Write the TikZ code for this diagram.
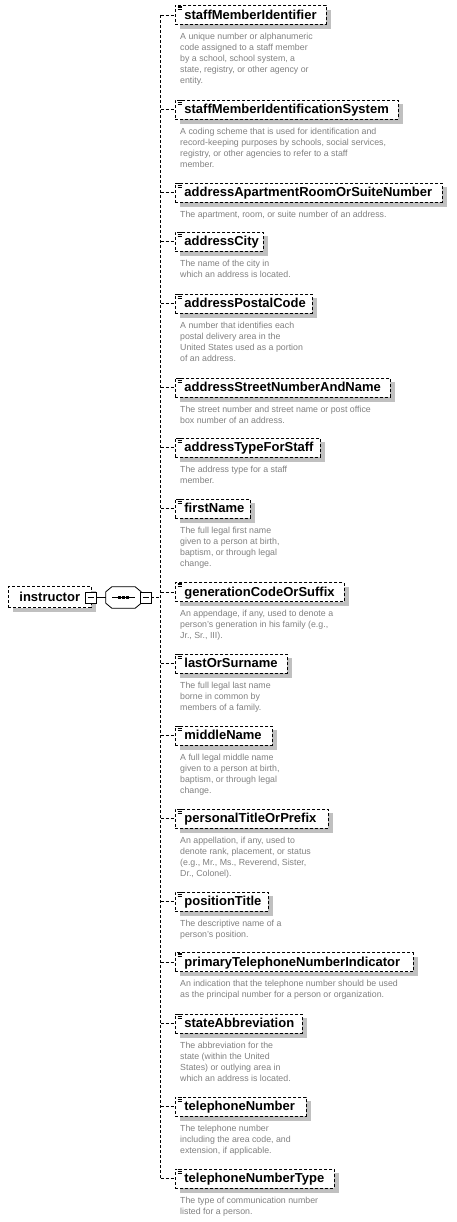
\documentclass[tikz,border=0pt]{standalone}
\usepackage{fontspec}
\setmainfont{Liberation Sans}
\usetikzlibrary{backgrounds}
\definecolor{shgray}{RGB}{192,192,192}
\definecolor{descgray}{RGB}{128,128,128}
\tikzset{
  conn/.style={line width=0.8pt, dash pattern=on 3pt off 2pt},
  solidconn/.style={line width=0.8pt},
  elem/.style={draw, line width=0.8pt, dash pattern=on 3pt off 2pt, fill=white,
    anchor=west, inner xsep=0pt, inner ysep=3.5pt, text width=#1pt, align=left,
    text height=10.3pt, text depth=1.7pt,
    font=\fontsize{13}{15}\selectfont\bfseries,
    execute at begin node={\hspace*{9pt}}},
  instrbox/.style={draw, line width=0.8pt, dash pattern=on 3pt off 2pt, fill=white,
    anchor=west, inner xsep=11pt, inner ysep=0pt, minimum height=21pt,
    text height=10.3pt, text depth=1.7pt,
    font=\fontsize{13}{15}\selectfont\bfseries},
  desc/.style={anchor=north west, inner sep=0pt, align=left, text=descgray,
    font=\fontsize{8.8}{11}\selectfont},
  minusbox/.style={draw, solid, line width=0.8pt, fill=white, minimum size=11pt,
    inner sep=0pt,
    path picture={\draw[line width=0.8pt] ([xshift=2.5pt]path picture bounding box.west)
      -- ([xshift=-2.5pt]path picture bounding box.east);}},
  seqbox/.style={inner sep=0pt, minimum width=35pt, minimum height=21pt},
  icon/.style={line width=0.7pt},
  shadowfill/.style={fill=shgray},
}
\begin{document}
\begin{tikzpicture}[x=1pt, y=-1pt]
\useasboundingbox (0,0) rectangle (456,1222);
\coordinate (vx) at (160.5,0);

% child elements
\node[elem=151] (e1) at (175,15) {staffMemberIdentifier};
\node[elem=223] (e2) at (175,109.5) {staffMemberIdentificationSystem};
\node[elem=267] (e3) at (175,192.5) {addressApartmentRoomOrSuiteNumber};
\node[elem=88] (e4) at (175,241.5) {addressCity};
\node[elem=137] (e5) at (175,303.5) {addressPostalCode};
\node[elem=215] (e6) at (175,387.5) {addressStreetNumberAndName};
\node[elem=145] (e7) at (175,447.5) {addressTypeForStaff};
\node[elem=75] (e8) at (175,508.5) {firstName};
\node[elem=169] (e9) at (175,592) {generationCodeOrSuffix};
\node[elem=112] (e10) at (175,663.5) {lastOrSurname};
\node[elem=97] (e11) at (175,735.5) {middleName};
\node[elem=153] (e12) at (175,818.5) {personalTitleOrPrefix};
\node[elem=93] (e13) at (175,901.5) {positionTitle};
\node[elem=238] (e14) at (175,962) {primaryTelephoneNumberIndicator};
\node[elem=127] (e15) at (175,1023.5) {stateAbbreviation};
\node[elem=131] (e16) at (175,1106.5) {telephoneNumber};
\node[elem=159] (e17) at (175,1178.5) {telephoneNumberType};

% icons
\foreach \n in {e1,e2,e3,e4,e5,e6,e7,e8,e9,e10,e11,e12,e13,e14,e15,e16,e17}{
  \draw[icon] ([xshift=2.7pt,yshift=-1pt]\n.north west) -- +(4.5,0);
  \draw[icon] ([xshift=2.7pt,yshift=-2.7pt]\n.north west) -- +(4.5,0);
  \draw[icon] ([xshift=2.7pt,yshift=-4.4pt]\n.north west) -- +(4.5,0);
}

% descriptions
\node[desc] (d1) at ([shift={(5,7.5)}]e1.south west) {\rule{0pt}{7pt}A unique number or alphanumeric\\code assigned to a staff member\\by a school, school system, a\\state, registry, or other agency or\\entity.};
\node[desc] (d2) at ([shift={(5,7.5)}]e2.south west) {\rule{0pt}{7pt}A coding scheme that is used for identification and\\record-keeping purposes by schools, social services,\\registry, or other agencies to refer to a staff\\member.};
\node[desc] (d3) at ([shift={(5,7.5)}]e3.south west) {\rule{0pt}{7pt}The apartment, room, or suite number of an address.};
\node[desc] (d4) at ([shift={(5,7.5)}]e4.south west) {\rule{0pt}{7pt}The name of the city in\\which an address is located.};
\node[desc] (d5) at ([shift={(5,7.5)}]e5.south west) {\rule{0pt}{7pt}A number that identifies each\\postal delivery area in the\\United States used as a portion\\of an address.};
\node[desc] (d6) at ([shift={(5,7.5)}]e6.south west) {\rule{0pt}{7pt}The street number and street name or post office\\box number of an address.};
\node[desc] (d7) at ([shift={(5,7.5)}]e7.south west) {\rule{0pt}{7pt}The address type for a staff\\member.};
\node[desc] (d8) at ([shift={(5,7.5)}]e8.south west) {\rule{0pt}{7pt}The full legal first name\\given to a person at birth,\\baptism, or through legal\\change.};
\node[desc] (d9) at ([shift={(5,7.5)}]e9.south west) {\rule{0pt}{7pt}An appendage, if any, used to denote a\\person's generation in his family (e.g.,\\Jr., Sr., III).};
\node[desc] (d10) at ([shift={(5,7.5)}]e10.south west) {\rule{0pt}{7pt}The full legal last name\\borne in common by\\members of a family.};
\node[desc] (d11) at ([shift={(5,7.5)}]e11.south west) {\rule{0pt}{7pt}A full legal middle name\\given to a person at birth,\\baptism, or through legal\\change.};
\node[desc] (d12) at ([shift={(5,7.5)}]e12.south west) {\rule{0pt}{7pt}An appellation, if any, used to\\denote rank, placement, or status\\(e.g., Mr., Ms., Reverend, Sister,\\Dr., Colonel).};
\node[desc] (d13) at ([shift={(5,7.5)}]e13.south west) {\rule{0pt}{7pt}The descriptive name of a\\person's position.};
\node[desc] (d14) at ([shift={(5,7.5)}]e14.south west) {\rule{0pt}{7pt}An indication that the telephone number should be used\\as the principal number for a person or organization.};
\node[desc] (d15) at ([shift={(5,7.5)}]e15.south west) {\rule{0pt}{7pt}The abbreviation for the\\state (within the United\\States) or outlying area in\\which an address is located.};
\node[desc] (d16) at ([shift={(5,7.5)}]e16.south west) {\rule{0pt}{7pt}The telephone number\\including the area code, and\\extension, if applicable.};
\node[desc] (d17) at ([shift={(5,7.5)}]e17.south west) {\rule{0pt}{7pt}The type of communication number\\listed for a person.};

% root element and sequence compositor
\node[instrbox] (instr) at (8,597) {instructor};
\node[minusbox] (m1) at (90.5,597.5) {};
\node[seqbox] (seq) at (123.5,597.5) {};
\draw[solidconn] (m1.east) -- (seq.west);
\draw[line width=0.8pt, fill=white]
  ([xshift=6pt]seq.north west) -- ([xshift=-6pt]seq.north east)
  -- ([yshift=-5pt]seq.north east) -- ([yshift=5pt]seq.south east)
  -- ([xshift=-6pt]seq.south east) -- ([xshift=6pt]seq.south west)
  -- ([yshift=5pt]seq.south west) -- ([yshift=-5pt]seq.north west) -- cycle;
\draw[solidconn] ([xshift=-11.5pt]seq.center) -- ([xshift=11.5pt]seq.center);
\foreach \dx in {-4,0,4}{
  \fill ([xshift=\dx pt]seq.center) +(-1.4,-1.4) rectangle +(1.4,1.4);
}
\node[minusbox] (m2) at (145.5,597.5) {};

% shadows
\begin{scope}[on background layer]
  \foreach \n in {e1,e2,e3,e4,e5,e6,e7,e8,e9,e10,e11,e12,e13,e14,e15,e16,e17,instr}{
    \fill[shadowfill] ([shift={(4.5,4.5)}]\n.north west) rectangle ([shift={(4.5,4.5)}]\n.south east);
  }
  \fill[shadowfill, shift={(4,4)}]
    ([xshift=6pt]seq.north west) -- ([xshift=-6pt]seq.north east)
    -- ([yshift=-5pt]seq.north east) -- ([yshift=5pt]seq.south east)
    -- ([xshift=-6pt]seq.south east) -- ([xshift=6pt]seq.south west)
    -- ([yshift=5pt]seq.south west) -- ([yshift=-5pt]seq.north west) -- cycle;
\end{scope}

% connectors
\draw[conn] (m2.east) -- (m2.east -| vx);
\draw[conn] (e1.west -| vx) -- (e17.west -| vx);
\foreach \n in {e1,e2,e3,e4,e5,e6,e7,e8,e9,e10,e11,e12,e13,e14,e15,e16,e17}{
  \draw[conn] (\n.west -| vx) -- (\n.west);
}
\end{tikzpicture}
\end{document}
